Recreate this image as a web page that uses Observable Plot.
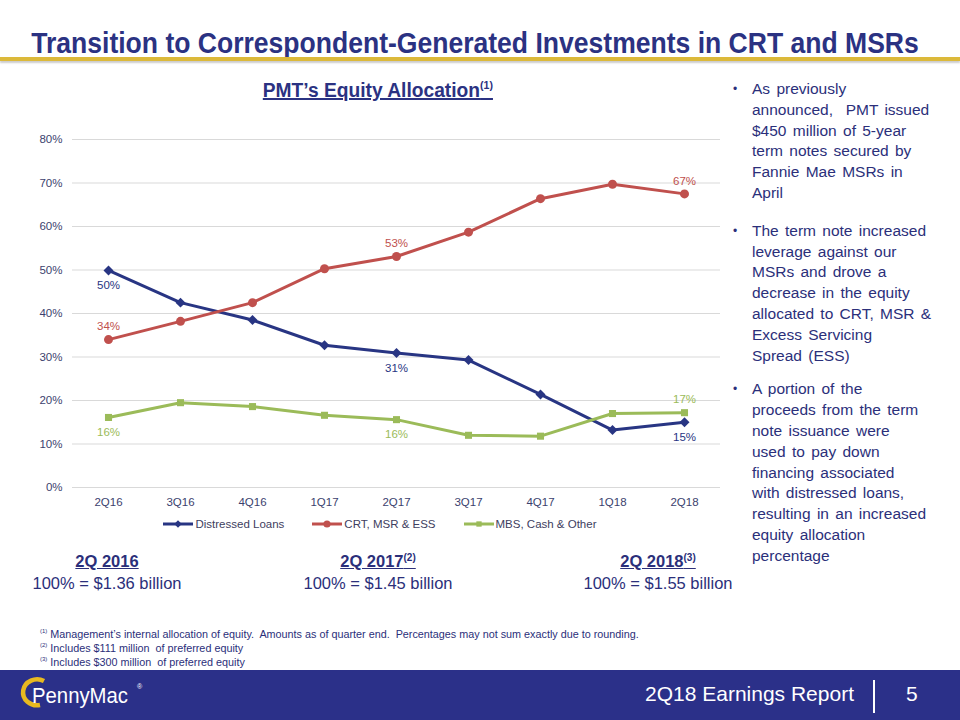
<!DOCTYPE html>
<html><head><meta charset="utf-8">
<script src="https://cdn.jsdelivr.net/npm/d3@7"></script>
<script src="https://cdn.jsdelivr.net/npm/@observablehq/plot@0.6"></script>
<style>
body{margin:0;width:960px;height:720px;position:relative;background:#fff;font-family:"Liberation Sans",Arial,sans-serif;overflow:hidden;color:#2b2f7a}
.abs{position:absolute}
#title{left:-10px;width:960px;top:27px;text-align:center;white-space:nowrap}
#title span{display:inline-block;font-weight:bold;font-size:29px;color:#2b3282;transform:scaleX(0.915);transform-origin:center}
#gold{left:0;top:57px;width:960px;height:4px;background:#dcb93a;box-shadow:0 2px 2px #ccc}
#ctitle{left:178px;width:400px;top:79px;text-align:center;white-space:nowrap}
#ctitle span{display:inline-block;font-weight:bold;font-size:20px;color:#2b3282;transform:scaleX(0.96);text-decoration:underline;text-decoration-thickness:2px}
#ctitle sup{font-size:11px;line-height:0}
#chart{left:0;top:120px}
#legend{left:0;width:760px;top:518px;display:flex;justify-content:center;gap:28px;font-size:11.5px;color:#404060}
#legend span{display:flex;align-items:center;gap:2px}
#bul{left:731px;top:79px;width:225px;font-size:15.5px;line-height:20.8px;color:#2b2f7a;word-spacing:2px;white-space:nowrap}
#bul .b{position:relative;padding-left:21px}
#bul .b:before{content:"•";position:absolute;left:2px;font-size:12px}
.sum{top:550px;width:240px;text-align:center;font-size:16.5px;color:#2b2f7a;line-height:22px}
.sum b{text-decoration:underline}
.sum sup{font-size:10px;line-height:0}
#foot{left:40px;top:627px;font-size:10.8px;line-height:14px;color:#2b2f7a;white-space:nowrap}
#foot sup{font-size:6px;line-height:0}
#bar{left:0;top:670px;width:960px;height:50px;background:#2b3089}
#rep{right:106px;top:682px;color:#fff;font-size:21px}
#vline{left:873px;top:680px;width:2px;height:33px;background:#fff}
#pg{left:906px;top:682px;color:#fff;font-size:21px}
#logo{left:0;top:670px;width:160px;height:50px}
</style></head><body>
<div id="title" class="abs"><span>Transition to Correspondent-Generated Investments in CRT and MSRs</span></div>
<div id="gold" class="abs"></div>
<div id="ctitle" class="abs"><span>PMT’s Equity Allocation<sup>(1)</sup></span></div>
<div id="chart" class="abs"></div>
<div id="legend" class="abs"></div>
<div id="bul" class="abs">
<div class="b" style="margin-bottom:17px">As previously<br>announced,&nbsp; PMT issued<br>$450 million of 5-year<br>term notes secured by<br>Fannie Mae MSRs in<br>April</div>
<div class="b" style="margin-bottom:13px">The term note increased<br>leverage against our<br>MSRs and drove a<br>decrease in the equity<br>allocated to CRT, MSR &amp;<br>Excess Servicing<br>Spread (ESS)</div>
<div class="b">A portion of the<br>proceeds from the term<br>note issuance were<br>used to pay down<br>financing associated<br>with distressed loans,<br>resulting in an increased<br>equity allocation<br>percentage</div>
</div>
<div class="sum abs" style="left:-13px"><b>2Q 2016</b><br>100% = $1.36 billion</div>
<div class="sum abs" style="left:258px"><b>2Q 2017<sup>(2)</sup></b><br>100% = $1.45 billion</div>
<div class="sum abs" style="left:538px"><b>2Q 2018<sup>(3)</sup></b><br>100% = $1.55 billion</div>
<div id="foot" class="abs">
<div><sup>(1)</sup> Management’s internal allocation of equity.&nbsp; Amounts as of quarter end.&nbsp; Percentages may not sum exactly due to rounding.</div>
<div><sup>(2)</sup> Includes $111 million&nbsp; of preferred equity</div>
<div><sup>(3)</sup> Includes $300 million&nbsp; of preferred equity</div>
</div>
<div id="bar" class="abs"></div>
<svg id="logo" class="abs" viewBox="0 0 160 50">
<path d="M44 11 A14 13 0 1 0 40 35" fill="none" stroke="#e8b920" stroke-width="4.5"/>
<text x="32" y="33" fill="#fff" font-size="22" textLength="96" lengthAdjust="spacingAndGlyphs">PennyMac</text>
<text x="137" y="19" fill="#fff" font-size="7">®</text>
</svg>
<div id="rep" class="abs">2Q18 Earnings Report</div>
<div id="vline" class="abs"></div>
<div id="pg" class="abs">5</div>
<script>
const quarters = ["2Q16","3Q16","4Q16","1Q17","2Q17","3Q17","4Q17","1Q18","2Q18"];
const seriesNames = ["Distressed Loans","CRT, MSR & ESS","MBS, Cash & Other"];
const distressed = [49.9, 42.5, 38.5, 32.7, 30.9, 29.3, 21.4, 13.2, 15.0];
const crt = [34.0, 38.2, 42.5, 50.3, 53.1, 58.7, 66.4, 69.7, 67.5];
const mbs = [16.1, 19.5, 18.6, 16.6, 15.6, 12.0, 11.8, 17.0, 17.2];
const labelIdx = [0, 4, 8];
const labelText = {
  "Distressed Loans": ["50%","31%","15%"],
  "CRT, MSR & ESS": ["34%","53%","67%"],
  "MBS, Cash & Other": ["16%","16%","17%"]
};
const yTicks = [0,10,20,30,40,50,60,70,80];

const colors = ["#283583","#c0504d","#9bbb59"];
const symbols = ["diamond2","circle","square2"];
const vals = [distressed, crt, mbs];
const data = [];
seriesNames.forEach((s,i)=>quarters.forEach((q,j)=>data.push({series:s,q,v:vals[i][j]/100})));
const labels = [];
seriesNames.forEach((s,i)=>labelIdx.forEach((j,k)=>{
  const above = (s==="CRT, MSR & ESS") || (s==="MBS, Cash & Other" && j===8);
  labels.push({series:s,q:quarters[j],v:vals[i][j]/100,t:labelText[s][k],above});
}));

const plot = Plot.plot({
  width:730, height:420,
  marginLeft:72, marginRight:10, marginTop:19, marginBottom:53,
  style:{fontFamily:"Liberation Sans, Arial, sans-serif", fontSize:"11.5px", color:"#3c3f6e", background:"transparent"},
  x:{domain:quarters, type:"point", padding:0.5, label:null, tickSize:0, tickPadding:10},
  y:{domain:[0,0.8], ticks:yTicks.map(d=>d/100), tickFormat:d=>Math.round(d*100)+"%", label:null, tickSize:0, tickPadding:10},
  color:{domain:seriesNames, range:colors},
  symbol:{domain:seriesNames, range:symbols},
  marks:[
    Plot.ruleY(yTicks.map(d=>d/100), {stroke:"#d9d9d9", strokeWidth:1}),
    Plot.line(data, {x:"q", y:"v", stroke:"series", strokeWidth:3}),
    Plot.dot(data, {x:"q", y:"v", fill:"series", symbol:"series", r:4.5}),
    Plot.text(labels.filter(d=>d.above), {x:"q", y:"v", text:"t", fill:"series", dy:-13, fontSize:11.5}),
    Plot.text(labels.filter(d=>!d.above), {x:"q", y:"v", text:"t", fill:"series", dy:15, fontSize:11.5})
  ]
});
document.getElementById("chart").appendChild(plot);

const leg = document.getElementById("legend");
seriesNames.forEach((s,i)=>{
  const sym = d3.symbol().type(i===0?d3.symbolDiamond2:i===1?d3.symbolCircle:d3.symbolSquare2).size(i===1?40:36)();
  const sp = document.createElement("span");
  sp.innerHTML = `<svg width="30" height="10"><line x1="0" x2="30" y1="5" y2="5" stroke="${colors[i]}" stroke-width="3"/><path d="${sym}" transform="translate(15,5)" fill="${colors[i]}"/></svg>${s.replace("&","&amp;")}`;
  leg.appendChild(sp);
});
</script>
</body></html>
